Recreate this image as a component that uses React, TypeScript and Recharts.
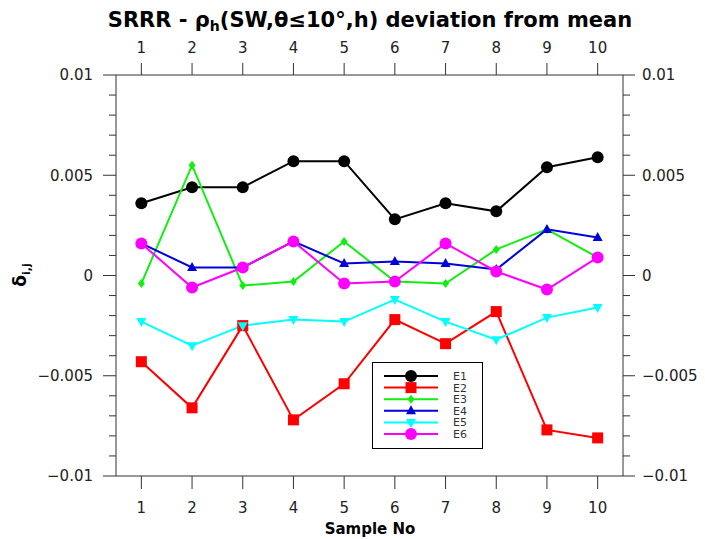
import React from "react";
import { LineChart, Line, XAxis, YAxis, Legend } from "recharts";

const SAMPLES = [1, 2, 3, 4, 5, 6, 7, 8, 9, 10];

const E1 = [0.0036, 0.0044, 0.0044, 0.0057, 0.0057, 0.0028, 0.0036, 0.0032, 0.0054, 0.0059];
const E2 = [-0.0043, -0.0066, -0.0025, -0.0072, -0.0054, -0.0022, -0.0034, -0.0018, -0.0077, -0.0081];
const E3 = [-0.0004, 0.0055, -0.0005, -0.0003, 0.0017, -0.0003, -0.0004, 0.0013, 0.0023, 0.0009];
const E4 = [0.0016, 0.0004, 0.0004, 0.0017, 0.0006, 0.0007, 0.0006, 0.0003, 0.0023, 0.0019];
const E5 = [-0.0023, -0.0035, -0.0025, -0.0022, -0.0023, -0.0012, -0.0023, -0.0032, -0.0021, -0.0016];
const E6 = [0.0016, -0.0006, 0.0004, 0.0017, -0.0004, -0.0003, 0.0016, 0.0002, -0.0007, 0.0009];

const Y_TICKS = [
  -0.01, -0.009, -0.008, -0.007, -0.006, -0.005, -0.004, -0.003, -0.002, -0.001, 0,
  0.001, 0.002, 0.003, 0.004, 0.005, 0.006, 0.007, 0.008, 0.009, 0.01,
];

const SERIES = [
  { key: "E1", values: E1, color: "#000000", shape: "circle" },
  { key: "E2", values: E2, color: "#ff0000", shape: "square" },
  { key: "E3", values: E3, color: "#11ee11", shape: "diamond" },
  { key: "E4", values: E4, color: "#0000dd", shape: "triangle" },
  { key: "E5", values: E5, color: "#00ffff", shape: "triangleDown" },
  { key: "E6", values: E6, color: "#ff00ff", shape: "circle" },
];

const data = SAMPLES.map((s, i) => {
  const row: Record<string, number> = { sample: s };
  SERIES.forEach((se) => (row[se.key] = se.values[i]));
  return row;
});

const FONT = "DejaVu Sans, sans-serif";
const AXIS = "#333";

function marker(shape: string, color: string, cx: number, cy: number, key?: any) {
  switch (shape) {
    case "circle":
      return <circle key={key} cx={cx} cy={cy} r={6} fill={color} />;
    case "square":
      return <rect key={key} x={cx - 5.5} y={cy - 5.5} width={11} height={11} fill={color} />;
    case "diamond":
      return (
        <path key={key} d={`M${cx},${cy - 4.5}L${cx + 3.5},${cy}L${cx},${cy + 4.5}L${cx - 3.5},${cy}Z`} fill={color} />
      );
    case "triangle":
      return <path key={key} d={`M${cx},${cy - 5.5}L${cx + 5},${cy + 3.5}L${cx - 5},${cy + 3.5}Z`} fill={color} />;
    default:
      return <path key={key} d={`M${cx},${cy + 5.5}L${cx + 5},${cy - 3.5}L${cx - 5},${cy - 3.5}Z`} fill={color} />;
  }
}

const fmt = (v: number) => {
  const r = Math.round(v * 1000) / 1000;
  if (r === 0) return "0";
  const s = String(Math.abs(r));
  return r < 0 ? "\u2212" + s : s;
};

const isMajor = (v: number) => Math.round(v * 1000) % 5 === 0;

const LeftTick = (props: any) => {
  const { x, y, payload } = props;
  const major = isMajor(payload.value);
  return (
    <g>
      <line x1={x} x2={x - (major ? 13 : 7)} y1={y} y2={y} stroke={AXIS} />
      {major && (
        <text x={x - 23} y={y} dy="0.36em" textAnchor="end" fontSize={15} fontFamily={FONT} fill="#222">
          {fmt(payload.value)}
        </text>
      )}
    </g>
  );
};

const RightTick = (props: any) => {
  const { x, y, payload } = props;
  const major = isMajor(payload.value);
  return (
    <g>
      <line x1={x} x2={x + (major ? 12 : 7)} y1={y} y2={y} stroke={AXIS} />
      {major && (
        <text x={x + 19} y={y} dy="0.36em" textAnchor="start" fontSize={15} fontFamily={FONT} fill="#222">
          {fmt(payload.value)}
        </text>
      )}
    </g>
  );
};

// x ticks: y is the axis line because tickSize/tickMargin are 0
const BottomTick = (props: any) => {
  const { x, y, payload } = props;
  return (
    <g>
      <line x1={x} x2={x} y1={y} y2={y + 13} stroke={AXIS} />
      <text x={x} y={y + 37} textAnchor="middle" fontSize={15} fontFamily={FONT} fill="#222">
        {payload.value}
      </text>
    </g>
  );
};

const TopTick = (props: any) => {
  const { x, y, payload } = props;
  return (
    <g>
      <line x1={x} x2={x} y1={y} y2={y - 12} stroke={AXIS} />
      <text x={x} y={y - 22} textAnchor="middle" fontSize={15} fontFamily={FONT} fill="#222">
        {payload.value}
      </text>
    </g>
  );
};

const LegendBox = () => (
  <svg width={112} height={88}>
    <rect x={0.5} y={0.5} width={110} height={86} fill="#fff" stroke="#000" />
    {SERIES.map((s, i) => {
      const y = 14 + i * 11.6;
      return (
        <g key={s.key}>
          <line x1={12} x2={66} y1={y} y2={y} stroke={s.color} strokeWidth={2} />
          {marker(s.shape, s.color, 39, y)}
          <text x={81} y={y} dy="0.36em" fontSize={11} fontFamily={FONT} fill="#333">
            {s.key}
          </text>
        </g>
      );
    })}
  </svg>
);

export default function App() {
  return (
    <div
      style={{
        position: "absolute",
        left: 0,
        top: 0,
        width: 705,
        height: 539,
        background: "#fff",
        fontFamily: FONT,
      }}
    >
      <LineChart width={705} height={539} data={data} margin={{ top: 0, right: 0, bottom: 0, left: 0 }}>
        <XAxis
          xAxisId="bottom"
          dataKey="sample"
          type="number"
          domain={[0.5, 10.5]}
          ticks={SAMPLES}
          interval={0}
          allowDataOverflow
          orientation="bottom"
          height={63}
          tickSize={0}
          tickMargin={0}
          tickLine={false}
          stroke={AXIS}
          tick={<BottomTick />}
        />
        <XAxis
          xAxisId="top"
          dataKey="sample"
          type="number"
          domain={[0.5, 10.5]}
          ticks={SAMPLES}
          interval={0}
          allowDataOverflow
          orientation="top"
          height={75}
          tickSize={0}
          tickMargin={0}
          tickLine={false}
          stroke={AXIS}
          tick={<TopTick />}
        />
        <YAxis
          yAxisId="left"
          type="number"
          domain={[-0.01, 0.01]}
          ticks={Y_TICKS}
          interval={0}
          allowDataOverflow
          width={116}
          tickSize={0}
          tickMargin={0}
          tickLine={false}
          stroke={AXIS}
          tick={<LeftTick />}
        />
        <YAxis
          yAxisId="right"
          orientation="right"
          type="number"
          domain={[-0.01, 0.01]}
          ticks={Y_TICKS}
          interval={0}
          allowDataOverflow
          width={82}
          tickSize={0}
          tickMargin={0}
          tickLine={false}
          stroke={AXIS}
          tick={<RightTick />}
        />
        <Legend
          layout="horizontal"
          verticalAlign="middle"
          align="center"
          content={() => <LegendBox />}
          wrapperStyle={{ left: 372, top: 362, width: 112, height: 88 }}
        />
        {SERIES.map((s) => (
          <Line
            key={s.key}
            xAxisId="bottom"
            yAxisId="left"
            dataKey={s.key}
            stroke={s.color}
            strokeWidth={2}
            type="linear"
            isAnimationActive={false}
            dot={(p: any) => marker(s.shape, s.color, p.cx, p.cy, p.index)}
            activeDot={false}
          />
        ))}
      </LineChart>
      <svg width={705} height={539} style={{ position: "absolute", left: 0, top: 0, pointerEvents: "none" }}>
        <text x={370} y={27} textAnchor="middle" fontSize={21} fontWeight="bold" fontFamily={FONT} fill="#000">
          SRRR - ρ<tspan fontSize={14} dy={4}>h</tspan>
          <tspan dy={-4}>(SW,θ≤10°,h) deviation from mean</tspan>
        </text>
        <text x={370} y={534} textAnchor="middle" fontSize={15} fontWeight="bold" fontFamily={FONT} fill="#000">
          Sample No
        </text>
        <text transform="translate(26,275) rotate(-90)" textAnchor="middle" fontSize={17} fontWeight="bold" fontFamily={FONT} fill="#000">
          δ<tspan fontSize={11} dy={4}>i,j</tspan>
        </text>
      </svg>
    </div>
  );
}
